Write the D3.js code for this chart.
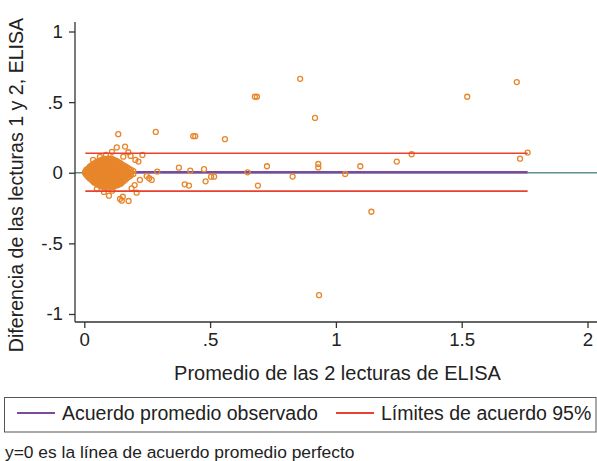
<!DOCTYPE html>
<html>
<head>
<meta charset="utf-8">
<script src="https://cdn.jsdelivr.net/npm/d3@7"></script>
<style>
body{margin:0;background:#fff;}
svg{display:block;font-family:"Liberation Sans",Arial,sans-serif;}
</style>
</head>
<body>
<svg id="chart"></svg>
<script>
// [promedio, diferencia] for each sample
const clusterPoints = [
[0.004,0.0],[0.004,0.008],[0.004,-0.006],
[0.008,0.012],[0.008,-0.004],[0.008,-0.015],[0.008,0.02],
[0.013,0.025],[0.013,0.006],[0.013,-0.01],[0.013,-0.024],
[0.018,0.035],[0.018,0.016],[0.018,-0.002],[0.018,-0.02],[0.018,-0.034],
[0.023,0.045],[0.023,0.027],[0.023,0.009],[0.023,-0.008],[0.023,-0.026],[0.023,-0.043],
[0.029,0.052],[0.029,0.034],[0.029,0.016],[0.029,-0.003],[0.029,-0.021],[0.029,-0.038],[0.029,-0.052],
[0.035,0.06],[0.035,0.041],[0.035,0.022],[0.035,0.004],[0.035,-0.014],[0.035,-0.032],[0.035,-0.05],[0.035,-0.062],
[0.041,0.066],[0.041,0.047],[0.041,0.028],[0.041,0.01],[0.041,-0.008],[0.041,-0.027],[0.041,-0.045],[0.041,-0.063],[0.041,-0.071],
[0.047,0.073],[0.047,0.054],[0.047,0.035],[0.047,0.017],[0.047,-0.001],[0.047,-0.02],[0.047,-0.039],[0.047,-0.057],[0.047,-0.075],
[0.053,0.078],[0.053,0.059],[0.053,0.04],[0.053,0.021],[0.053,0.003],[0.053,-0.016],[0.053,-0.034],[0.053,-0.053],[0.053,-0.071],[0.053,-0.084],
[0.059,0.084],[0.059,0.065],[0.059,0.046],[0.059,0.027],[0.059,0.008],[0.059,-0.011],[0.059,-0.03],[0.059,-0.048],[0.059,-0.067],[0.059,-0.086],
[0.065,0.088],[0.065,0.069],[0.065,0.05],[0.065,0.031],[0.065,0.012],[0.065,-0.007],[0.065,-0.026],[0.065,-0.044],[0.065,-0.063],[0.065,-0.082],[0.065,-0.095],
[0.071,0.092],[0.071,0.073],[0.071,0.054],[0.071,0.035],[0.071,0.015],[0.071,-0.004],[0.071,-0.023],[0.071,-0.041],[0.071,-0.06],[0.071,-0.079],[0.071,-0.097],
[0.077,0.095],[0.077,0.076],[0.077,0.057],[0.077,0.038],[0.077,0.019],[0.077,0.0],[0.077,-0.019],[0.077,-0.038],[0.077,-0.057],[0.077,-0.076],[0.077,-0.094],
[0.083,0.098],[0.083,0.079],[0.083,0.06],[0.083,0.041],[0.083,0.022],[0.083,0.003],[0.083,-0.016],[0.083,-0.035],[0.083,-0.054],[0.083,-0.073],[0.083,-0.092],[0.083,-0.104],
[0.089,0.094],[0.089,0.074],[0.089,0.055],[0.089,0.036],[0.089,0.017],[0.089,-0.002],[0.089,-0.021],[0.089,-0.04],[0.089,-0.059],[0.089,-0.078],[0.089,-0.097],
[0.095,0.1],[0.095,0.081],[0.095,0.062],[0.095,0.043],[0.095,0.024],[0.095,0.005],[0.095,-0.014],[0.095,-0.033],[0.095,-0.052],[0.095,-0.071],[0.095,-0.09],[0.095,-0.106],
[0.101,0.096],[0.101,0.077],[0.101,0.058],[0.101,0.039],[0.101,0.02],[0.101,0.001],[0.101,-0.018],[0.101,-0.037],[0.101,-0.056],[0.101,-0.075],[0.101,-0.094],
[0.107,0.101],[0.107,0.082],[0.107,0.063],[0.107,0.044],[0.107,0.025],[0.107,0.006],[0.107,-0.013],[0.107,-0.032],[0.107,-0.051],[0.107,-0.07],[0.107,-0.089],[0.107,-0.103],
[0.113,0.095],[0.113,0.076],[0.113,0.057],[0.113,0.038],[0.113,0.019],[0.113,0.0],[0.113,-0.019],[0.113,-0.038],[0.113,-0.057],[0.113,-0.076],[0.113,-0.095],
[0.119,0.09],[0.119,0.071],[0.119,0.052],[0.119,0.033],[0.119,0.014],[0.119,-0.005],[0.119,-0.024],[0.119,-0.043],[0.119,-0.062],[0.119,-0.081],[0.119,-0.098],
[0.125,0.085],[0.125,0.066],[0.125,0.047],[0.125,0.028],[0.125,0.009],[0.125,-0.01],[0.125,-0.029],[0.125,-0.048],[0.125,-0.067],[0.125,-0.086],
[0.131,0.08],[0.131,0.061],[0.131,0.042],[0.131,0.023],[0.131,0.004],[0.131,-0.015],[0.131,-0.034],[0.131,-0.053],[0.131,-0.072],[0.131,-0.09],
[0.137,0.074],[0.137,0.055],[0.137,0.036],[0.137,0.017],[0.137,-0.002],[0.137,-0.021],[0.137,-0.04],[0.137,-0.059],[0.137,-0.078],
[0.143,0.068],[0.143,0.049],[0.143,0.03],[0.143,0.011],[0.143,-0.008],[0.143,-0.027],[0.143,-0.046],[0.143,-0.065],[0.143,-0.08],
[0.149,0.06],[0.149,0.041],[0.149,0.022],[0.149,0.003],[0.149,-0.016],[0.149,-0.035],[0.149,-0.054],[0.149,-0.07],
[0.156,0.052],[0.156,0.033],[0.156,0.014],[0.156,-0.005],[0.156,-0.024],[0.156,-0.043],[0.156,-0.06],
[0.163,0.045],[0.163,0.026],[0.163,0.007],[0.163,-0.012],[0.163,-0.031],[0.163,-0.05],
[0.17,0.037],[0.17,0.018],[0.17,-0.001],[0.17,-0.02],[0.17,-0.039],
[0.178,0.028],[0.178,0.009],[0.178,-0.01],[0.178,-0.029],
[0.186,0.02],[0.186,0.0],[0.186,-0.018],
[0.195,0.012],[0.195,-0.008]
];
const scatteredPoints = [
[0.135,0.273],[0.129,0.179],[0.162,0.185],[0.175,0.145],[0.184,0.119],[0.155,0.114],
[0.203,0.091],[0.231,0.126],[0.215,0.079],[0.11,0.148],[0.062,0.112],[0.086,0.126],[0.035,0.091],
[0.248,-0.023],[0.258,-0.039],[0.268,-0.051],[0.221,-0.051],[0.2,-0.087],[0.188,-0.11],[0.208,-0.141],
[0.098,-0.162],[0.111,-0.127],[0.149,-0.198],[0.176,-0.2],[0.153,-0.17],[0.142,-0.186],[0.078,-0.136],[0.05,-0.115],
[0.29,0.008],[0.284,0.289],
[0.376,0.036],[0.421,0.015],[0.476,0.025],[0.399,-0.082],[0.416,-0.091],[0.482,-0.061],
[0.504,-0.028],[0.516,-0.028],[0.649,0.003],[0.726,0.046],[0.69,-0.091],[0.828,-0.027],
[0.93,0.062],[0.93,0.038],[1.037,-0.009],[1.097,0.046],[1.141,-0.276],[1.242,0.079],[1.301,0.131],
[1.522,0.538],[1.719,0.642],[1.732,0.1],[1.762,0.143],[0.858,0.665],[0.678,0.538],[0.686,0.538],
[0.917,0.388],[0.433,0.259],[0.441,0.259],[0.559,0.238],[0.933,-0.867]
];
const meanDiff = 0.004;
const upperLimit = 0.138;
const lowerLimit = -0.130;
const xTicks = [0, 0.5, 1, 1.5, 2];
const yTicks = [-1, -0.5, 0, 0.5, 1];
const xTitle = "Promedio de las 2 lecturas de ELISA";
const yTitle = "Diferencia de las lecturas 1 y 2, ELISA";
const legendLabels = ["Acuerdo promedio observado", "Límites de acuerdo 95%"];
const note = "y=0 es la línea de acuerdo promedio perfecto";

const w = 597, h = 461;
const colOrange = "#E8862C", colPurple = "#7B4A9C", colRed = "#E8412F", colTeal = "#5F8F8C", colAxis = "#333333";
const fmt = d => d === 0 ? "0" : String(d).replace(/^(-?)0\./, "$1.");

let svg = d3.select("#chart").attr("width", w).attr("height", h);

let xScale = d3.scaleLinear().domain([0, 2]).range([84.3, 587.5]);
let yScale = d3.scaleLinear().domain([-1, 1]).range([314, 31.5]);

const plotLeft = 75, plotTop = 22, plotBottom = 322, plotRight = 597;

const allPoints = clusterPoints.concat(scatteredPoints);
const xMin = d3.min(allPoints, d => d[0]), xMax = d3.max(allPoints, d => d[0]);

// zero line across the plot region
svg.append("line")
  .attr("x1", plotLeft).attr("x2", plotRight)
  .attr("y1", yScale(0)).attr("y2", yScale(0))
  .attr("stroke", colTeal).attr("stroke-width", 1.6);

// observed mean difference
svg.append("line")
  .attr("x1", xScale(xMin)).attr("x2", xScale(xMax))
  .attr("y1", yScale(meanDiff)).attr("y2", yScale(meanDiff))
  .attr("stroke", colPurple).attr("stroke-width", 2.6);

svg.append("g").selectAll("circle")
  .data(allPoints)
  .enter()
  .append("circle")
  .attr("cx", d => xScale(d[0]))
  .attr("cy", d => yScale(d[1]))
  .attr("r", 2.5)
  .attr("fill", "none")
  .attr("stroke", colOrange)
  .attr("stroke-width", 1.3);

// limits of agreement
[upperLimit, lowerLimit].forEach(v => {
  svg.append("line")
    .attr("x1", xScale(xMin)).attr("x2", xScale(xMax))
    .attr("y1", yScale(v)).attr("y2", yScale(v))
    .attr("stroke", colRed).attr("stroke-width", 1.6);
});

// axes
let xAxis = d3.axisBottom(xScale).tickValues(xTicks).tickFormat(fmt).tickSize(6).tickPadding(5);
let yAxis = d3.axisLeft(yScale).tickValues(yTicks).tickFormat(fmt).tickSize(6).tickPadding(6);

let gx = svg.append("g").attr("transform", "translate(0," + plotBottom + ")").call(xAxis);
gx.select(".domain").remove();
gx.append("line").attr("x1", plotLeft).attr("x2", plotRight).attr("stroke", colAxis).attr("stroke-width", 1.3);

let gy = svg.append("g").attr("transform", "translate(" + plotLeft + ",0)").call(yAxis);
gy.select(".domain").remove();
gy.append("line").attr("y1", plotTop).attr("y2", plotBottom).attr("stroke", colAxis).attr("stroke-width", 1.3);

[gx, gy].forEach(g => {
  g.selectAll(".tick line").attr("stroke", colAxis).attr("stroke-width", 1.3);
  g.selectAll(".tick text").attr("fill", "#222").style("font-size", "18.7px").style("font-family", "Liberation Sans, Arial, sans-serif");
});

svg.append("text")
  .attr("x", 337.5).attr("y", 380)
  .attr("text-anchor", "middle")
  .attr("fill", "#222").style("font-size", "20px")
  .text(xTitle);

svg.append("text")
  .attr("transform", "translate(23," + 185 + ") rotate(-90)")
  .attr("text-anchor", "middle")
  .attr("fill", "#222").style("font-size", "19.6px")
  .text(yTitle);

// legend
svg.append("rect")
  .attr("x", 4.5).attr("y", 397.5).attr("width", 591.5).attr("height", 34.5)
  .attr("fill", "none").attr("stroke", "#555").attr("stroke-width", 1);

const legendItems = [
  {label: legendLabels[0], color: colPurple, x: 17},
  {label: legendLabels[1], color: colRed, x: 336}
];
legendItems.forEach(item => {
  svg.append("line")
    .attr("x1", item.x).attr("x2", item.x + 38)
    .attr("y1", 413).attr("y2", 413)
    .attr("stroke", item.color).attr("stroke-width", 1.8);
  svg.append("text")
    .attr("x", item.x + 45).attr("y", 420)
    .attr("fill", "#222").style("font-size", "19.5px")
    .text(item.label);
});

svg.append("text")
  .attr("x", 5).attr("y", 458)
  .attr("fill", "#222").style("font-size", "17.4px")
  .text(note);
</script>
</body>
</html>
